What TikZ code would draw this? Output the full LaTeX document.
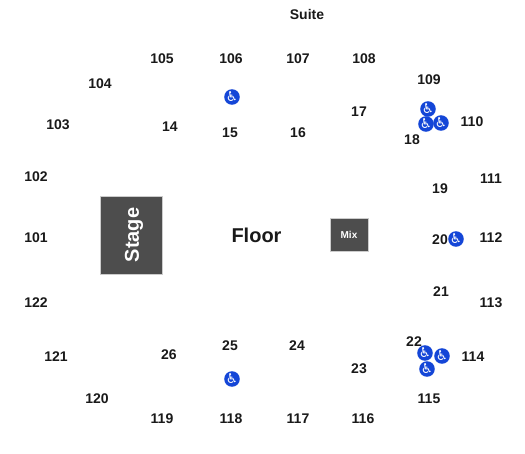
\documentclass[tikz,border=0pt]{standalone}
\usepackage{fontspec}
\setmainfont{Liberation Sans}
\newfontfamily\symfont{DejaVu Sans}
\definecolor{wcblue}{RGB}{20,70,215}
\definecolor{blockgray}{RGB}{77,77,77}

\begin{document}
\begin{tikzpicture}[x=1pt, y=-1pt, font=\bfseries\fontsize{14}{16}\selectfont]
  \tikzstyle{sec}=[inner sep=0pt, text=black!90, yshift=-0.8pt]
  \tikzstyle{blk}=[fill=blockgray, draw=black!20, line width=0.3pt, text=white, inner sep=0pt, align=center]
  \tikzstyle{wc}=[circle, fill=wcblue, text=white, minimum size=14.5pt, inner sep=0pt,
                  font=\symfont\fontsize{13.5}{13.5}\selectfont]
  \useasboundingbox (0,0) rectangle (525,453);

  % ================= outer ring, top =============
  \node[sec] (suite) at (307,14) {Suite};
  \node[sec] (s105) at (162,58) {105};
  \node[sec] (s106) at (231,58) {106};
  \node[sec] (s107) at (298,58) {107};
  \node[sec] (s108) at (364,58) {108};
  \node[sec] (s109) at (429,79) {109};
  \node[sec] (s110) at (472,121) {110};
  \node[sec] (s111) at (491,178) {111};
  \node[sec] (s112) at (491,237) {112};
  \node[sec] (s113) at (491,302) {113};
  \node[sec] (s114) at (473,356) {114};
  \node[sec] (s115) at (429,398) {115};
  \node[sec] (s116) at (363,418) {116};
  \node[sec] (s117) at (298,418) {117};
  \node[sec] (s118) at (231,418) {118};
  \node[sec] (s119) at (162,418) {119};
  \node[sec] (s120) at (97,398) {120};
  \node[sec] (s121) at (56,356) {121};
  \node[sec] (s122) at (36,302) {122};
  \node[sec] (s101) at (36,237) {101};
  \node[sec] (s102) at (36,176) {102};
  \node[sec] (s103) at (58,124) {103};
  \node[sec] (s104) at (100,83) {104};

  % ================= inner ring =============
  \node[sec] (s14) at (170,126) {14};
  \node[sec] (s15) at (230,132) {15};
  \node[sec] (s16) at (298,132) {16};
  \node[sec] (s17) at (359,111) {17};
  \node[sec] (s18) at (412,139) {18};
  \node[sec] (s19) at (440,188) {19};
  \node[sec] (s20) at (440,239) {20};
  \node[sec] (s21) at (441,291) {21};
  \node[sec] (s22) at (414,341) {22};
  \node[sec] (s23) at (359,368) {23};
  \node[sec] (s24) at (297,345) {24};
  \node[sec] (s25) at (230,345) {25};
  \node[sec] (s26) at (169,354) {26};

  % ================= floor =============
  \node[blk, minimum width=62pt, minimum height=78pt] (stage) at (131.5,235) {};
  \node[inner sep=0pt, rotate=90, text=white, font=\bfseries\fontsize{20}{20}\selectfont] (stagetxt) at (134,235) {Stage};
  \node[sec, font=\bfseries\fontsize{20}{22}\selectfont] (floor) at (256.5,234.5) {Floor};
  \node[blk, minimum width=38pt, minimum height=33pt, font=\bfseries\fontsize{10}{11}\selectfont] (mix) at (349,235) {Mix};

  % ================= wheelchair spots =============
  \node[wc] (wc1) at (232,97) {♿};
  \node[wc] (wc2) at (428,109) {♿};
  \node[wc] (wc3) at (426,124) {♿};
  \node[wc] (wc4) at (441,123) {♿};
  \node[wc] (wc5) at (456,239) {♿};
  \node[wc] (wc6) at (425,353) {♿};
  \node[wc] (wc7) at (442,356) {♿};
  \node[wc] (wc8) at (427,369) {♿};
  \node[wc] (wc9) at (232,379) {♿};
\end{tikzpicture}
\end{document}
